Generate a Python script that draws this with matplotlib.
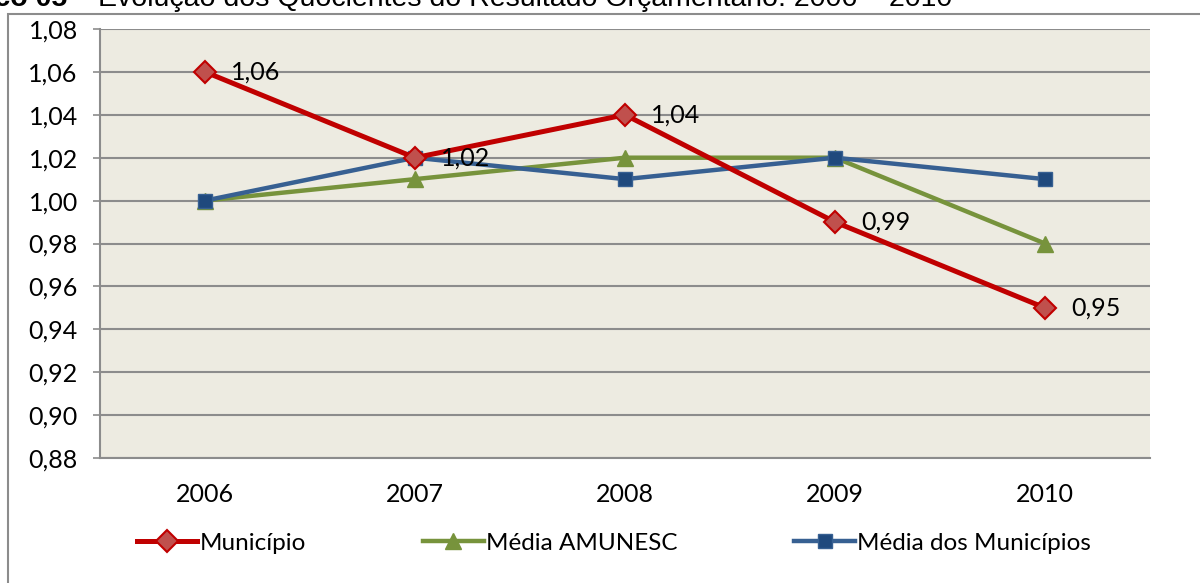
import numpy as np
import matplotlib
matplotlib.use('Agg')
import matplotlib.pyplot as plt
from matplotlib.patches import Rectangle

# dados
anos = ['2006', '2007', '2008', '2009', '2010']
municipio = [1.06, 1.02, 1.04, 0.99, 0.95]
media_amunesc = [1.00, 1.01, 1.02, 1.02, 0.98]
media_municipios = [1.00, 1.02, 1.01, 1.02, 1.01]
yticks = [0.88, 0.90, 0.92, 0.94, 0.96, 0.98, 1.00, 1.02, 1.04, 1.06, 1.08]

plt.rcParams['font.family'] = ['Lato', 'DejaVu Sans']

W, H = 1200, 583
fig = plt.figure(figsize=(12, 5.83), dpi=100)
ax = fig.add_axes([100/W, 1-458/H, 1050/W, 429/H])
ax.set_facecolor('#EDEBE1')

x = np.arange(len(anos))
# linhas (ordem de desenho: verde, azul, vermelho por cima)
ax.plot(x, media_amunesc, color='#77933C', lw=3.2, marker='^', ms=11,
        mfc='#77933C', mec='#77933C', label='Média AMUNESC', zorder=3)
ax.plot(x, media_municipios, color='#376092', lw=3.2, marker='s', ms=10.5,
        mfc='#1F497D', mec='#376092', label='Média dos Municípios', zorder=4)
ax.plot(x, municipio, color='#C00000', lw=3.6, marker='D', ms=11.5,
        mfc='#C0504D', mec='#C00000', mew=1.5, label='Município', zorder=5)

# rótulos de dados do município
for xi, v in zip(x, municipio):
    ax.annotate(('%.2f' % v).replace('.', ','), (xi, v), xytext=(19, 0),
                textcoords='offset points', va='center', ha='left',
                fontsize=18, color='black', zorder=6)

ax.set_xlim(-0.5, len(anos) - 0.5)
ax.set_ylim(0.88, 1.08)
ax.set_xticks(x)
ax.set_xticklabels(anos)
ax.set_yticks(yticks)
ax.set_yticklabels([('%.2f' % t).replace('.', ',') for t in yticks])
ax.tick_params(axis='y', length=5, width=1.2, color='#8C8C8C', labelsize=18, pad=11)
ax.tick_params(axis='x', length=0, labelsize=18, pad=18)
ax.grid(axis='y', color='#8C8C8C', lw=1.5, zorder=1)
ax.set_axisbelow(True)
for s in ['top', 'right']:
    ax.spines[s].set_visible(False)
for s in ['left', 'bottom']:
    ax.spines[s].set_color('#8C8C8C')
    ax.spines[s].set_linewidth(1.5)

# legenda
h, l = ax.get_legend_handles_labels()
ordem = [2, 0, 1]
fig.legend([h[i] for i in ordem], [l[i] for i in ordem], loc='center',
            bbox_to_anchor=(614/W, 1-543/H), ncol=3, frameon=False,
            fontsize=17.5, handlelength=2.5, handletextpad=0.1, columnspacing=4.8)

# moldura do gráfico
fig.patches.append(Rectangle((8/W, -0.1), 1.2, 1 - 14/H + 0.1, transform=fig.transFigure,
                             fill=False, edgecolor='#8C8C8C', lw=1.5))

# título (cortado no topo)
yt = 1 - 6/H
fig.text(67/W, yt, 'Gráfico 05', fontsize=20.5, fontweight='bold',
         family='Liberation Sans', va='baseline', ha='right')
fig.text(85/W, yt, '–', fontsize=20.5, family='Liberation Sans', va='baseline', ha='center')
fig.text(98/W, yt, 'Evolução dos Quocientes do Resultado Orçamentário: 2006 – 2010',
         fontsize=20.5, family='Liberation Sans', va='baseline', ha='left')

fig.savefig('out.png', dpi=100)
